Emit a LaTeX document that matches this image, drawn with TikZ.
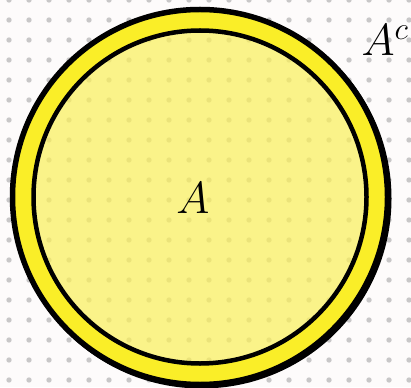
\documentclass[tikz,border=0pt]{standalone}
\usepackage{fix-cm}
\definecolor{bgc}{RGB}{253,251,251}
\definecolor{dotc}{RGB}{200,199,200}
\definecolor{ringc}{RGB}{250,238,40}
\definecolor{innerc}{RGB}{250,240,90}
\tikzset{
  ringline/.style={line width=5.5pt, draw=black},
  innerline/.style={line width=4.5pt, draw=black},
  bigtext/.style={inner sep=0pt, font=\fontsize{45}{50}\selectfont}
}
\begin{document}
\begin{tikzpicture}[x=1pt,y=-1pt]
\useasboundingbox (0,0) rectangle (411,387);
\clip (0,0) rectangle (411,387);
\fill[bgc] (0,0) rectangle (411,387);
\foreach \i in {0,...,20}{
  \foreach \j in {0,...,19}{
    \fill[dotc] ({9+20*\i},{20*\j}) circle (2.7);
  }
}
\coordinate (c) at (200,197);
% shadow (ring only)
\fill[black, even odd rule] ([shift={(1.5,1.5)}]c) circle (190) (c) circle (170);
% ring
\fill[ringc, even odd rule] (c) circle (187.5) (c) circle (166.5);
\draw[ringline] (c) circle (187.5);
% inner
\fill[innerc, opacity=0.7] (c) circle (166.5);
\draw[innerline] (c) circle (166.5);
\node[bigtext] (a) at (193,198) {$A$};
\node[bigtext] (ac) at (385,40) {$A^c$};
\end{tikzpicture}
\end{document}
